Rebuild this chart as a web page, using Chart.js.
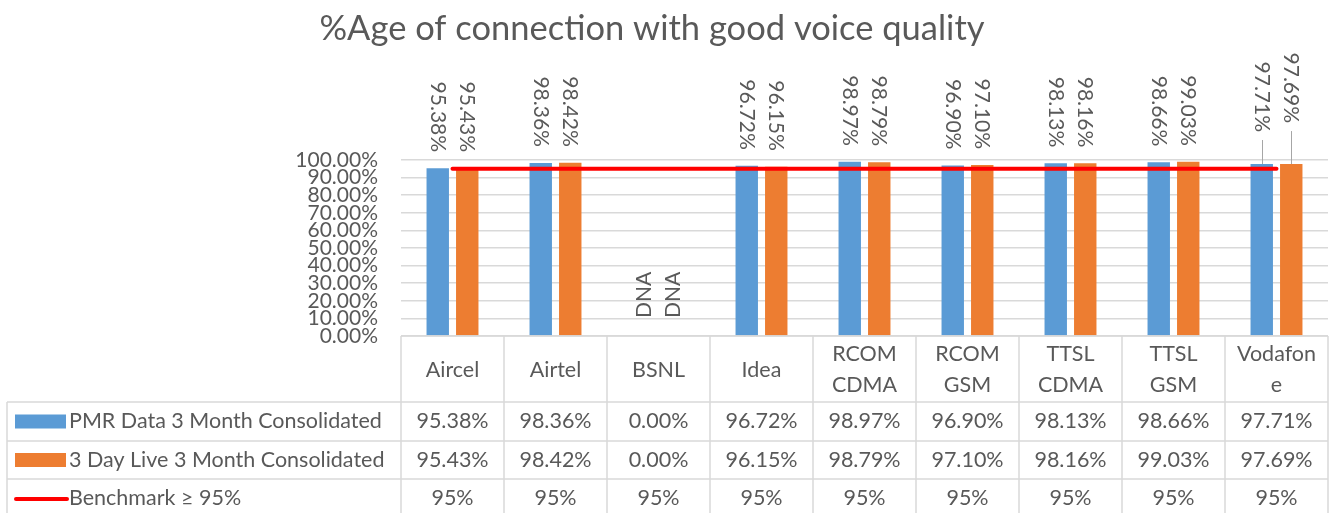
<!DOCTYPE html>
<html><head><meta charset="utf-8">
<script src="https://cdn.jsdelivr.net/npm/chart.js@4.4.0/dist/chart.umd.min.js"></script>
<style>html,body{margin:0;padding:0;background:#fff;overflow:hidden}</style>
</head><body>
<canvas id="c" width="1332" height="513"></canvas>
<script>
// ---- data ----
const chartTitle = '%Age of connection with good voice quality';
const categories = [['Aircel'], ['Airtel'], ['BSNL'], ['Idea'], ['RCOM', 'CDMA'], ['RCOM', 'GSM'], ['TTSL', 'CDMA'], ['TTSL', 'GSM'], ['Vodafon', 'e']];
const seriesNames = ['PMR Data 3 Month Consolidated', '3 Day Live 3 Month Consolidated', 'Benchmark \u2265 95%'];
const pmrValues = [95.38, 98.36, 0.00, 96.72, 98.97, 96.90, 98.13, 98.66, 97.71];
const liveValues = [95.43, 98.42, 0.00, 96.15, 98.79, 97.10, 98.16, 99.03, 97.69];
const benchmarkValues = [95, 95, 95, 95, 95, 95, 95, 95, 95];
const yTickValues = [0, 10, 20, 30, 40, 50, 60, 70, 80, 90, 100];

// ---- style ----
const FONT = 'Lato, "Open Sans", sans-serif';
const TEXT = '#595959';
const GRID = '#d9d9d9';
const BLUE = '#5B9BD5';
const ORANGE = '#ED7D31';
const RED = '#FF0000';

const pct2 = v => v.toFixed(2) + '%';

const titleShift = {
  id: 'titleShift',
  afterLayout(chart, args, opts) {
    if (chart.titleBlock) chart.titleBlock.left -= opts.left;
  }
};

const dataLabels = {
  id: 'dataLabels',
  afterDatasetsDraw(chart, args, opts) {
    const ctx = chart.ctx;
    [0, 1].forEach(di => {
      const meta = chart.getDatasetMeta(di);
      const vals = chart.data.datasets[di].data;
      meta.data.forEach((el, i) => {
        const v = vals[i];
        const lift = (opts.extraLift[i] || [0, 0])[di];
        ctx.save();
        ctx.font = opts.size + 'px ' + FONT;
        ctx.fillStyle = TEXT;
        ctx.textBaseline = 'middle';
        if (v === 0) {
          ctx.translate(el.x, el.y - opts.dnaGap);
          ctx.rotate(-Math.PI / 2);
          ctx.textAlign = 'left';
          ctx.fillText('DNA', 0, 0);
        } else {
          const gap = opts.gap + lift;
          ctx.translate(el.x, el.y - gap);
          ctx.rotate(Math.PI / 2);
          ctx.textAlign = 'right';
          ctx.fillText(pct2(v), 0, 0);
          ctx.setTransform(1, 0, 0, 1, 0, 0);
          if (lift > 0) {
            ctx.strokeStyle = '#a6a6a6';
            ctx.lineWidth = 1;
            ctx.beginPath();
            ctx.moveTo(Math.round(el.x) + 0.5, el.y - gap + 8);
            ctx.lineTo(Math.round(el.x) + 0.5, el.y);
            ctx.stroke();
          }
        }
        ctx.restore();
      });
    });
  }
};

const dataTable = {
  id: 'dataTable',
  afterDraw(chart, args, opts) {
    const ctx = chart.ctx;
    const xs = chart.scales.x;
    const n = chart.data.labels.length;
    const colW = (xs.right - xs.left) / n;
    const top = chart.chartArea.bottom;
    const r1 = top + opts.headerH;
    const r2 = r1 + opts.rowH[0];
    const r3 = r2 + opts.rowH[1];
    const bottom = chart.height + 2;
    const leftX = opts.leftX;
    ctx.save();
    ctx.strokeStyle = GRID;
    ctx.lineWidth = 1.5;
    ctx.beginPath();
    ctx.moveTo(xs.left, top); ctx.lineTo(xs.right, top);
    [r1, r2, r3].forEach(y => { ctx.moveTo(leftX, y); ctx.lineTo(xs.right, y); });
    for (let i = 0; i <= n; i++) {
      const x = xs.left + i * colW;
      ctx.moveTo(x, top); ctx.lineTo(x, bottom);
    }
    ctx.moveTo(leftX, r1); ctx.lineTo(leftX, bottom);
    ctx.stroke();

    ctx.fillStyle = TEXT;
    ctx.font = opts.size + 'px ' + FONT;
    ctx.textAlign = 'center';
    ctx.textBaseline = 'middle';
    chart.data.labels.forEach((lab, i) => {
      const cx = xs.getPixelForTick(i);
      const lines = Array.isArray(lab) ? lab : [lab];
      const mid = (top + r1) / 2 + 1;
      lines.forEach((t, k) => {
        ctx.fillText(t, cx, mid + (k - (lines.length - 1) / 2) * opts.lineH);
      });
    });
    const ds = chart.data.datasets;
    const rows = [[r1, r2, ds[0].data, pct2], [r2, r3, ds[1].data, pct2], [r3, r3 + opts.rowH[2], ds[2].data, v => v + '%']];
    rows.forEach(([y0, y1, vals, fmt]) => {
      const cy = (y0 + y1) / 2;
      vals.forEach((v, i) => ctx.fillText(fmt(v), xs.getPixelForTick(i), cy));
    });
    ctx.textAlign = 'left';
    const kx = opts.keyX, kw = opts.keyW;
    ctx.fillStyle = BLUE;
    let cy = (r1 + r2) / 2;
    ctx.fillRect(kx, cy - 7, kw, 14);
    ctx.fillStyle = TEXT;
    ctx.fillText(ds[0].label, kx + kw + 3, cy);
    cy = (r2 + r3) / 2;
    ctx.fillStyle = ORANGE;
    ctx.fillRect(kx, cy - 7, kw, 14);
    ctx.fillStyle = TEXT;
    ctx.fillText(ds[1].label, kx + kw + 3, cy);
    cy = (r3 + r3 + opts.rowH[2]) / 2;
    ctx.strokeStyle = RED;
    ctx.lineWidth = 4;
    ctx.lineCap = 'round';
    ctx.beginPath();
    ctx.moveTo(kx + 1, cy + 1); ctx.lineTo(kx + kw + 1, cy + 1);
    ctx.stroke();
    ctx.fillStyle = TEXT;
    ctx.fillText(ds[2].label, kx + kw + 3, cy);
    ctx.restore();
  }
};

Chart.defaults.font.family = FONT;
Chart.defaults.color = TEXT;

new Chart(document.getElementById('c'), {
  type: 'bar',
  data: {
    labels: categories,
    datasets: [
      { label: seriesNames[0], data: pmrValues, backgroundColor: BLUE, order: 1,
        categoryPercentage: 0.573, barPercentage: 0.76 },
      { label: seriesNames[1], data: liveValues, backgroundColor: ORANGE, order: 1,
        categoryPercentage: 0.573, barPercentage: 0.76 },
      { type: 'line', label: seriesNames[2], data: benchmarkValues, borderColor: RED,
        borderWidth: 4, pointRadius: 0, borderCapStyle: 'round', fill: false, order: 0 }
    ]
  },
  options: {
    responsive: false,
    animation: false,
    devicePixelRatio: 1,
    layout: { padding: { left: 0, right: 4, top: 0, bottom: 0 } },
    plugins: {
      legend: { display: false },
      tooltip: { enabled: false },
      title: {
        display: true, text: chartTitle, color: TEXT,
        font: { size: 34.5, weight: 'normal', family: FONT, lineHeight: 1.2 },
        padding: { top: 8, bottom: 160 - 8 - 34.5 * 1.2 }
      },
      titleShift: { left: 24 },
      dataLabels: { size: 21, gap: 16, dnaGap: 18, extraLift: { 8: [16, 25] } },
      dataTable: { size: 21.5, headerH: 66, rowH: [39, 38, 38], lineH: 31, leftX: 7, keyX: 15, keyW: 51 }
    },
    scales: {
      x: {
        offset: true,
        grid: { display: false, drawTicks: false },
        border: { display: false },
        ticks: { display: false },
        afterFit: s => { s.height = 177; }
      },
      y: {
        min: 0, max: 100,
        afterBuildTicks: s => { s.ticks = yTickValues.map(v => ({ value: v })); },
        grid: { color: GRID, lineWidth: 1.5, drawTicks: false },
        border: { display: false },
        ticks: { autoSkip: false, padding: 23, font: { size: 21 }, color: TEXT,
                 callback: v => pct2(v) },
        afterFit: s => { s.width = 401; }
      }
    }
  },
  plugins: [titleShift, dataLabels, dataTable]
});
</script>
</body></html>
